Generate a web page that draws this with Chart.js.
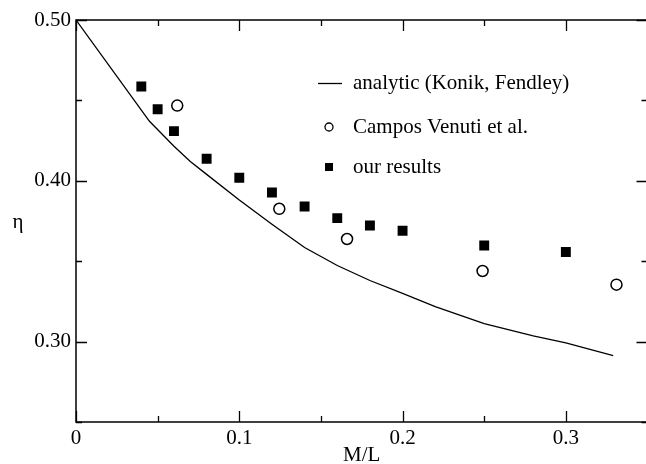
<!DOCTYPE html>
<html>
<head>
<meta charset="utf-8">
<script src="https://cdn.jsdelivr.net/npm/chart.js@4.4.0/dist/chart.umd.min.js"></script>
<style>
  html, body { margin: 0; padding: 0; background: #fff; overflow: hidden; }
  #wrap { width: 646px; height: 464px; overflow: hidden; }
  canvas { display: block; }
</style>
</head>
<body>
<div id="wrap"><canvas id="etaChart" width="648" height="464"></canvas></div>
<script>
// analytic curve (Konik, Fendley)
const analyticX = [0, 0.045, 0.06, 0.07, 0.08, 0.10, 0.12, 0.14, 0.16, 0.18, 0.20, 0.22, 0.25, 0.28, 0.30, 0.329];
const analyticY = [0.500, 0.437, 0.4215, 0.412, 0.404, 0.388, 0.373, 0.3585, 0.3473, 0.338, 0.330, 0.3217, 0.3112, 0.3035, 0.2992, 0.2913];

// Campos Venuti et al.
const camposX = [0.062, 0.1245, 0.166, 0.249, 0.331];
const camposY = [0.4468, 0.3826, 0.3638, 0.3439, 0.3354];

// our results
const oursX = [0.04, 0.05, 0.06, 0.08, 0.10, 0.12, 0.14, 0.16, 0.18, 0.20, 0.25, 0.30];
const oursY = [0.4586, 0.4445, 0.4309, 0.4137, 0.4019, 0.3927, 0.3840, 0.3768, 0.3722, 0.3689, 0.3598, 0.3557];

const xTicks = [0, 0.1, 0.2, 0.3];
const xTickLabels = ['0', '0.1', '0.2', '0.3'];
const xMinorTicks = [0.05, 0.15, 0.25];
const yTicks = [0.30, 0.40, 0.50];
const yTickLabels = ['0.30', '0.40', '0.50'];
const yMinorTicks = [0.25, 0.35, 0.45];

const serif = "'Liberation Serif', 'DejaVu Serif', serif";
const toPoints = (xs, ys) => xs.map((v, i) => ({ x: v, y: ys[i] }));

// Box frame with inward ticks, x tick labels, axis titles and the inset legend.
// The frame's right edge (x = 0.35) falls just past the visible page edge.
const frameAndLegend = {
  id: 'frameAndLegend',
  afterDatasetsDraw(chart) {
    const { ctx, chartArea: a, scales: { x, y } } = chart;
    ctx.save();
    ctx.strokeStyle = '#000';
    ctx.fillStyle = '#000';
    ctx.lineWidth = 1.5;
    ctx.beginPath();
    ctx.rect(a.left, a.top, a.right - a.left, a.bottom - a.top);
    ctx.stroke();

    ctx.lineWidth = 1.3;
    ctx.beginPath();
    const xTick = (v, len) => {
      const px = Math.round(x.getPixelForValue(v)) + 0.5;
      ctx.moveTo(px, a.bottom); ctx.lineTo(px, a.bottom - len);
      ctx.moveTo(px, a.top); ctx.lineTo(px, a.top + len);
    };
    const yTick = (v, len) => {
      const py = Math.round(y.getPixelForValue(v)) + 0.5;
      ctx.moveTo(a.left, py); ctx.lineTo(a.left + len, py);
      ctx.moveTo(a.right, py); ctx.lineTo(a.right - len, py);
    };
    xTicks.forEach(v => xTick(v, 11));
    xMinorTicks.forEach(v => xTick(v, 6));
    yTicks.forEach(v => yTick(v, 11));
    yMinorTicks.forEach(v => yTick(v, 6));
    ctx.stroke();

    ctx.font = '21px ' + serif;
    ctx.textAlign = 'center';
    ctx.textBaseline = 'middle';
    xTicks.forEach((v, i) => ctx.fillText(xTickLabels[i], x.getPixelForValue(v), a.bottom + 16));

    // axis titles
    ctx.fillText('M/L', (a.left + a.right) / 2, 455);
    ctx.fillText('\u03b7', 18, 222);

    // legend
    const lx = 329, tx = 353;
    ctx.textAlign = 'left';
    ctx.lineWidth = 1.3;
    ctx.beginPath();
    ctx.moveTo(318, 83.5); ctx.lineTo(342, 83.5);
    ctx.stroke();
    ctx.fillText('analytic (Konik, Fendley)', tx, 83);

    ctx.beginPath();
    ctx.arc(lx, 127, 4, 0, Math.PI * 2);
    ctx.stroke();
    ctx.fillText('Campos Venuti et al.', tx, 127);

    ctx.fillRect(lx - 4, 163, 8, 8);
    ctx.fillText('our results', tx, 167);
    ctx.restore();
  }
};

new Chart(document.getElementById('etaChart'), {
  type: 'scatter',
  data: {
    datasets: [
      {
        type: 'line',
        label: 'analytic (Konik, Fendley)',
        data: toPoints(analyticX, analyticY),
        borderColor: '#000',
        borderWidth: 1.3,
        pointRadius: 0,
        tension: 0,
        fill: false
      },
      {
        label: 'Campos Venuti et al.',
        data: toPoints(camposX, camposY),
        pointStyle: 'circle',
        pointRadius: 5.5,
        backgroundColor: '#fff',
        borderColor: '#000',
        borderWidth: 1.5
      },
      {
        label: 'our results',
        data: toPoints(oursX, oursY),
        pointStyle: 'rect',
        pointRadius: 7,
        backgroundColor: '#000',
        borderColor: '#000',
        borderWidth: 0
      }
    ]
  },
  options: {
    responsive: false,
    animation: false,
    layout: { autoPadding: false, padding: { top: 20, right: 0.5, left: 0, bottom: 0 } },
    plugins: { legend: { display: false }, tooltip: { enabled: false } },
    scales: {
      x: {
        type: 'linear',
        min: 0,
        max: 0.35,
        grid: { display: false, drawTicks: false },
        border: { display: false },
        ticks: { display: false },
        afterFit: s => { s.height = 42; }
      },
      y: {
        type: 'linear',
        min: 0.25,
        max: 0.50,
        grid: { display: false, drawTicks: false },
        border: { display: false },
        afterBuildTicks: s => { s.ticks = yTicks.map(v => ({ value: v })); },
        afterFit: s => { s.width = 76; },
        ticks: {
          autoSkip: false,
          padding: 5,
          color: '#000',
          font: { family: serif, size: 21 },
          callback: (v, i) => yTickLabels[i]
        }
      }
    }
  },
  plugins: [frameAndLegend]
});
</script>
</body>
</html>
